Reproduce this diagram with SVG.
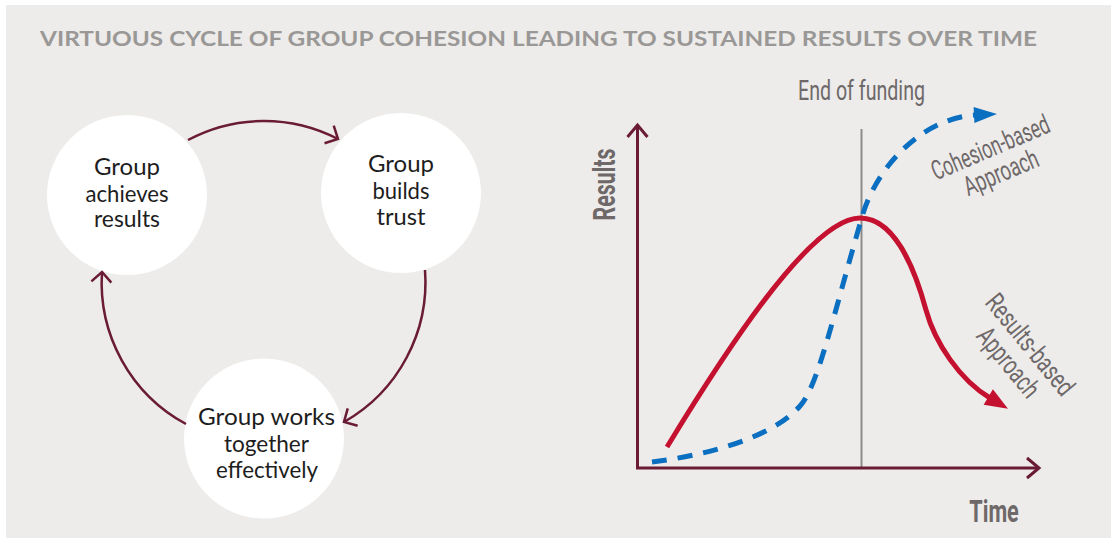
<svg xmlns="http://www.w3.org/2000/svg" width="1111" height="538" viewBox="0 0 1111 538">
  <style>
    .node circle { fill: #ffffff; }
    .node text { font-family: Lato, "Open Sans", "Liberation Sans", sans-serif; font-weight: 400; font-size: 22.5px; fill: #1d1d1d; text-anchor: middle; }
    .title { font-family: Lato, "Open Sans", "Liberation Sans", sans-serif; font-weight: 700; font-size: 21.5px; fill: #9a9896; }
    .cyc { fill: none; stroke: #6a1b36; stroke-width: 2.5; }
    .axis { fill: none; stroke: #6a1b36; stroke-width: 3; }
    .lbl { font-family: Roboto, "Liberation Sans", sans-serif; font-weight: 400; font-size: 27px; fill: #6e6869; }
    .lblb { font-family: Roboto, "Liberation Sans", sans-serif; font-weight: 700; font-size: 31px; fill: #6e6869; }
  </style>
  <defs>
    <marker id="chev" markerUnits="userSpaceOnUse" viewBox="-12 -12 14 24" markerWidth="14" markerHeight="24" refX="0" refY="0" orient="auto" overflow="visible">
      <path d="M-10,-10 L0,0 L-10,10" fill="none" stroke="#6a1b36" stroke-width="2.5"/>
    </marker>
    <marker id="chevAxis" markerUnits="userSpaceOnUse" viewBox="-14 -12 16 24" markerWidth="16" markerHeight="24" refX="0" refY="0" orient="auto" overflow="visible">
      <path d="M-12,-10 L0,0 L-12,10" fill="none" stroke="#6a1b36" stroke-width="3"/>
    </marker>
    <marker id="triRed" markerUnits="userSpaceOnUse" viewBox="-2 -10 26 20" markerWidth="26" markerHeight="20" refX="2" refY="0" orient="auto" overflow="visible">
      <path d="M0,-9 L23,0 L0,9 Z" fill="#c4112f"/>
    </marker>
    <marker id="triBlue" markerUnits="userSpaceOnUse" viewBox="-2 -10 26 20" markerWidth="26" markerHeight="20" refX="2" refY="0" orient="auto" overflow="visible">
      <path d="M0,-8 L23,0 L0,8 Z" fill="#0b6fc1"/>
    </marker>
  </defs>

  <rect x="0" y="0" width="1111" height="538" fill="#ffffff"/>
  <rect x="6" y="5" width="1105" height="533" fill="#edecea"/>

  <text class="title" x="40" y="46" textLength="997" lengthAdjust="spacingAndGlyphs">VIRTUOUS CYCLE OF GROUP COHESION LEADING TO SUSTAINED RESULTS OVER TIME</text>

  <g id="node-achieves" class="node">
    <circle cx="127" cy="195" r="80"/>
    <text x="127" y="175" textLength="66" lengthAdjust="spacingAndGlyphs">Group</text>
    <text x="127" y="201.5" textLength="83" lengthAdjust="spacingAndGlyphs">achieves</text>
    <text x="127" y="227" textLength="66" lengthAdjust="spacingAndGlyphs">results</text>
  </g>
  <g id="node-trust" class="node">
    <circle cx="401" cy="193" r="80"/>
    <text x="401" y="172" textLength="66" lengthAdjust="spacingAndGlyphs">Group</text>
    <text x="401" y="198.5" textLength="57" lengthAdjust="spacingAndGlyphs">builds</text>
    <text x="401" y="224.5" textLength="49" lengthAdjust="spacingAndGlyphs">trust</text>
  </g>
  <g id="node-works" class="node">
    <circle cx="264" cy="438.5" r="80"/>
    <text x="266.5" y="425" textLength="137" lengthAdjust="spacingAndGlyphs">Group works</text>
    <text x="266.5" y="451.5" textLength="85" lengthAdjust="spacingAndGlyphs">together</text>
    <text x="267" y="478" textLength="102" lengthAdjust="spacingAndGlyphs">effectively</text>
  </g>

  <g id="connectors">
    <path class="cyc" d="M188,140 A161,161 0 0 1 338,139" marker-end="url(#chev)"/>
    <path class="cyc" d="M425,270 A161,161 0 0 1 344,422" marker-end="url(#chev)"/>
    <path class="cyc" d="M186,424 A161,161 0 0 1 102,272" marker-end="url(#chev)"/>
  </g>

  <g id="chart">
    <line x1="861.5" y1="129" x2="861.5" y2="468" stroke="#8e8c8b" stroke-width="2"/>
    <path class="axis" d="M637.5,468 L637.5,125" marker-end="url(#chevAxis)"/>
    <path class="axis" d="M636,468 L1039,468" marker-end="url(#chevAxis)"/>
    <path d="M667,447 C720,360 810,218 860,218 C892,218 913,262 926,310 C935,343 960,380 990,398" fill="none" stroke="#c4112f" stroke-width="5" marker-end="url(#triRed)"/>
    <path d="M652,462 C700,456 770,440 800,406 C818,386 832,320 862,217 C875,170 920,118 976,115" fill="none" stroke="#0b6fc1" stroke-width="5" stroke-dasharray="15 11" marker-end="url(#triBlue)"/>
  </g>

  <text class="lbl" x="798" y="99.5" textLength="127" lengthAdjust="spacingAndGlyphs">End of funding</text>
  <g transform="translate(994,156) rotate(-23)">
    <text class="lbl" x="0" y="0" text-anchor="middle" font-size="26" textLength="126" lengthAdjust="spacingAndGlyphs">Cohesion-based</text>
    <text class="lbl" x="0" y="27" text-anchor="middle" font-size="26" textLength="79" lengthAdjust="spacingAndGlyphs">Approach</text>
  </g>
  <g transform="translate(1023,350.4) rotate(50.5)">
    <text class="lbl" x="0" y="0" text-anchor="middle" font-size="26" textLength="123" lengthAdjust="spacingAndGlyphs">Results-based</text>
    <text class="lbl" x="0" y="28" text-anchor="middle" font-size="26" textLength="82" lengthAdjust="spacingAndGlyphs">Approach</text>
  </g>
  <text class="lblb" transform="translate(615,184.5) rotate(-90)" x="0" y="0" text-anchor="middle" textLength="72" lengthAdjust="spacingAndGlyphs">Results</text>
  <text class="lblb" x="969.3" y="521.7" font-size="30" textLength="49.5" lengthAdjust="spacingAndGlyphs">Time</text>
</svg>
